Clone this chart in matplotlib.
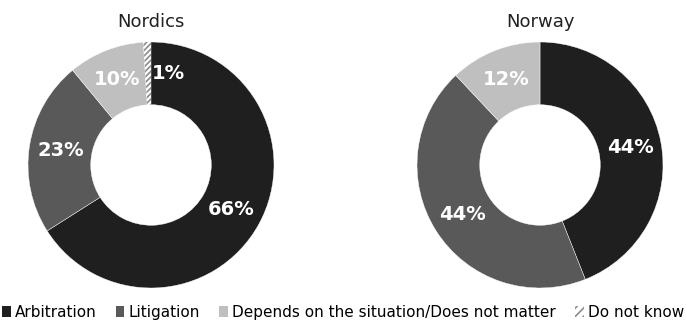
import matplotlib.pyplot as plt
from matplotlib.patches import Patch
import numpy as np

categories = ["Arbitration", "Litigation", "Depends on the situation/Does not matter", "Do not know"]
nordics = [66, 23, 10, 1]
norway = [44, 44, 12, 0]
titles = ["Nordics", "Norway"]

colors = ["#1f1f1f", "#595959", "#bfbfbf", "white"]
hatch_color = "#8c8c8c"
plt.rcParams['hatch.linewidth'] = 1.2

fig = plt.figure(figsize=(6.86, 3.21), dpi=100)


def donut(ax, values):
    wedges, _ = ax.pie(values, colors=colors, startangle=90, counterclock=False,
                       radius=1, wedgeprops=dict(width=0.51, edgecolor="white", linewidth=0.3))
    for w, c in zip(wedges, categories):
        if c == "Do not know":
            w.set_hatch("//////")
            w.set_edgecolor(hatch_color)
            w.set_linewidth(0)
    ax.set_xlim(-1, 1)
    ax.set_ylim(-1, 1)
    ax.set_aspect("equal")
    ax.axis("off")
    # labels at the middle of the ring
    total = sum(values)
    start = 90.0
    for v in values:
        if v == 0:
            continue
        sweep = 360.0 * v / total
        mid = np.deg2rad(start - sweep / 2)
        r = 0.745
        x, y = r * np.cos(mid), r * np.sin(mid)
        ha = "center"
        if v < 3:
            x, ha = 0.01, "left"
        ax.text(x, y, f"{v}%", ha=ha, va="center", color="white",
                fontsize=14, fontweight="bold", family="DejaVu Sans")
        start -= sweep


ax1 = fig.add_axes([28 / 686, 33 / 321, 246 / 686, 246 / 321])
donut(ax1, nordics)
ax2 = fig.add_axes([417 / 686, 33 / 321, 246 / 686, 246 / 321])
donut(ax2, norway)

fig.text(151 / 686, 1 - 22 / 321, titles[0], ha="center", va="center", fontsize=13, color="#222222")
fig.text(540 / 686, 1 - 22 / 321, titles[1], ha="center", va="center", fontsize=13, color="#222222")

handles = []
for c, col in zip(categories, colors):
    if c == "Do not know":
        handles.append(Patch(facecolor="white", edgecolor=hatch_color, hatch="////", linewidth=0))
    else:
        handles.append(Patch(facecolor=col, edgecolor="none"))

fig.legend(handles, categories, loc="lower center", bbox_to_anchor=(0.5, -0.04), ncol=4,
           frameon=False, handlelength=0.55, handleheight=0.75, handletextpad=0.25,
           columnspacing=1.3, prop={"family": "DejaVu Sans", "size": 11})

fig.savefig("out.png", dpi=100)
